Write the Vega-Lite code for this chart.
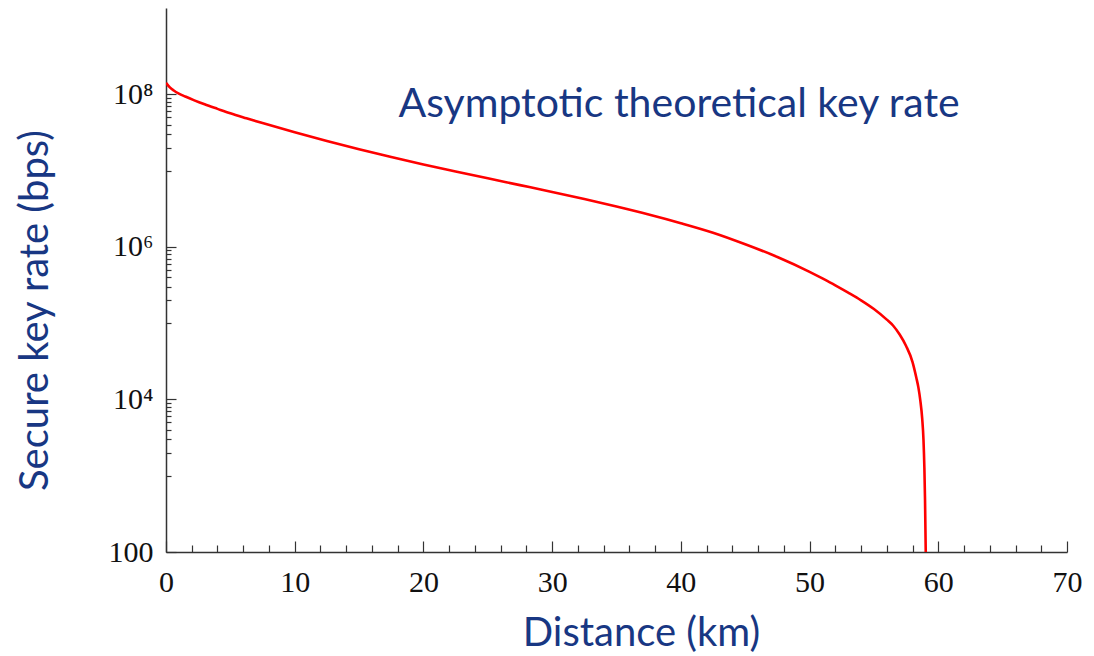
{
  "$schema": "https://vega.github.io/schema/vega-lite/v6.json",
  "width": 901,
  "height": 544,
  "autosize": "none",
  "padding": {"left": 166, "top": 8, "right": 27, "bottom": 104},
  "background": "white",
  "datasets": {
    "curve": [
      {"d": 0, "r": 141000000},
      {"d": 0.3, "r": 123000000},
      {"d": 0.6, "r": 112000000},
      {"d": 1, "r": 102000000},
      {"d": 1.5, "r": 93300000},
      {"d": 2.2, "r": 83200000},
      {"d": 3, "r": 73800000},
      {"d": 4, "r": 64300000},
      {"d": 5, "r": 56200000},
      {"d": 6.25, "r": 48400000},
      {"d": 7.5, "r": 41900000},
      {"d": 10, "r": 31800000},
      {"d": 12.5, "r": 24400000},
      {"d": 15, "r": 19000000},
      {"d": 17.5, "r": 15000000},
      {"d": 20, "r": 12000000},
      {"d": 22.5, "r": 9730000},
      {"d": 25, "r": 7910000},
      {"d": 27.5, "r": 6440000},
      {"d": 30, "r": 5240000},
      {"d": 32.5, "r": 4230000},
      {"d": 35, "r": 3370000},
      {"d": 37.5, "r": 2650000},
      {"d": 40, "r": 2040000},
      {"d": 42.5, "r": 1530000},
      {"d": 45, "r": 1080000},
      {"d": 47.5, "r": 736000},
      {"d": 50, "r": 470000},
      {"d": 51, "r": 385000},
      {"d": 52, "r": 313000},
      {"d": 53, "r": 251000},
      {"d": 54, "r": 199000},
      {"d": 55, "r": 153000},
      {"d": 56, "r": 111000},
      {"d": 56.5, "r": 92300},
      {"d": 57, "r": 70800},
      {"d": 57.5, "r": 50100},
      {"d": 58, "r": 30900},
      {"d": 58.3, "r": 19100},
      {"d": 58.45, "r": 14500},
      {"d": 58.6, "r": 9800},
      {"d": 58.75, "r": 5600},
      {"d": 58.85, "r": 2950},
      {"d": 58.92, "r": 1260},
      {"d": 58.97, "r": 480},
      {"d": 59.05, "r": 50}
    ],
    "label": [
      {"text": "Asymptotic theoretical key rate"}
    ]
  },
  "data": {"name": "curve"},
  "layer": [
    {
      "mark": {"type": "line", "strokeOpacity": 0},
      "encoding": {
        "x": {
          "field": "d", "type": "quantitative",
          "scale": {"domain": [0, 70], "nice": false, "zero": false},
          "axis": {
            "orient": "bottom", "values": [2,4,6,8,12,14,16,18,22,24,26,28,32,34,36,38,42,44,46,48,52,54,56,58,62,64,66,68],
            "tickSize": -7, "tickColor": "#333333", "tickWidth": 1.2,
            "labels": false, "domain": false, "grid": false, "title": null
          }
        },
        "y": {
          "field": "r", "type": "quantitative",
          "scale": {"type": "log", "domain": [100, 1350000000], "nice": false},
          "axis": {
            "orient": "left",
            "values": [1000,2000,3000,4000,5000,6000,7000,8000,9000,100000,200000,300000,400000,500000,600000,700000,800000,900000,10000000,20000000,30000000,40000000,50000000,60000000,70000000,80000000,90000000],
            "tickSize": -5, "tickColor": "#333333", "tickWidth": 1.2,
            "labels": false, "domain": false, "grid": false, "title": null
          }
        }
      }
    },
    {
      "mark": {"type": "line", "color": "#ff0000", "strokeWidth": 2.6, "clip": true, "interpolate": "monotone"},
      "encoding": {
        "x": {
          "field": "d", "type": "quantitative",
          "scale": {"domain": [0, 70], "nice": false, "zero": false},
          "axis": {
            "orient": "bottom", "values": [0,10,20,30,40,50,60,70],
            "tickSize": -11, "tickColor": "#333333", "tickWidth": 1.2,
            "domainColor": "#333333", "domainWidth": 1.5,
            "labelFont": "Liberation Serif", "labelFontSize": 30, "labelColor": "#111111",
            "labelPadding": 26, "labelBaseline": "top", "labelFlush": false,
            "grid": false,
            "title": "Distance (km)", "titleFont": "Lato", "titleFontSize": 40, "titleFontWeight": "normal",
            "titleColor": "#183783", "titleX": 475, "titleY": 81, "titleBaseline": "middle", "titleAlign": "center"
          }
        },
        "y": {
          "field": "r", "type": "quantitative",
          "scale": {"type": "log", "domain": [100, 1350000000], "nice": false},
          "axis": {
            "orient": "left", "values": [100, 10000, 1000000, 100000000],
            "labelExpr": "datum.value == 10000 ? '10⁴' : datum.value == 1000000 ? '10⁶' : datum.value == 100000000 ? '10⁸' : '100'",
            "tickSize": -10, "tickColor": "#333333", "tickWidth": 1.2,
            "domainColor": "#333333", "domainWidth": 1.5,
            "labelFont": "Liberation Serif", "labelFontSize": 30, "labelColor": "#111111",
            "labelPadding": 23, "labelBaseline": "middle", "labelFlush": false,
            "grid": false,
            "title": "Secure key rate (bps)", "titleFont": "Lato", "titleFontSize": 40, "titleFontWeight": "normal",
            "titleColor": "#183783", "titleX": -131, "titleY": 302, "titleAngle": 270,
            "titleBaseline": "middle", "titleAlign": "center"
          }
        }
      }
    },
    {
      "data": {"name": "label"},
      "mark": {"type": "text", "font": "Lato", "fontSize": 41, "color": "#183783", "align": "center", "baseline": "alphabetic"},
      "encoding": {
        "x": {"datum": 39.86, "type": "quantitative", "scale": {"domain": [0, 70], "nice": false, "zero": false}, "axis": null},
        "y": {"datum": 50000000, "type": "quantitative", "scale": {"type": "log", "domain": [100, 1350000000], "nice": false}, "axis": null},
        "text": {"field": "text"}
      }
    }
  ],
  "resolve": {"axis": {"x": "independent", "y": "independent"}},
  "config": {"view": {"stroke": null}}
}
